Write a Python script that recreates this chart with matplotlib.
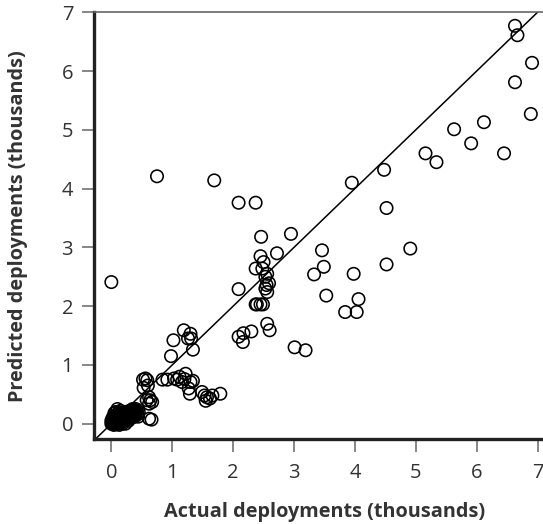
import matplotlib
matplotlib.use("Agg")
import matplotlib.pyplot as plt
import numpy as np

# Actual vs predicted deployments (thousands)
actual = [
    # dense cluster near origin
    0.00, 0.02, 0.05, 0.08, 0.10, 0.12, 0.15, 0.20, 0.25, 0.30, 0.35, 0.40, 0.42, 0.38,
    0.30, 0.25, 0.20, 0.15, 0.10, 0.05, 0.18, 0.12, 0.45, 0.40, 0.32, 0.28, 0.22, 0.08,
    0.03, 0.00, 0.14, 0.06, 0.23, 0.35, 0.44, 0.10, 0.05,
    0.01, 0.03, 0.04, 0.06, 0.07, 0.09, 0.11, 0.13, 0.16, 0.17, 0.19, 0.21, 0.24, 0.26,
    0.27, 0.29, 0.31, 0.33, 0.34, 0.36, 0.37, 0.39, 0.41, 0.43, 0.02, 0.04, 0.07, 0.09,
    0.11, 0.13, 0.16, 0.19, 0.22, 0.26, 0.33, 0.38,
    # around 0.6
    0.56, 0.59, 0.52, 0.60, 0.53, 0.62, 0.64, 0.62, 0.67, 0.58, 0.62, 0.66,
    # row near 0.75
    0.84, 0.92, 1.03, 1.08, 1.16, 1.22, 1.30, 1.34, 1.12, 1.20,
    1.27, 1.29,
    1.49, 1.53, 1.57, 1.62, 1.66, 1.55, 1.79,
    # group near 1.3-1.6
    1.19, 1.30, 1.26, 1.31, 1.02, 1.34, 0.98,
    # sparse high
    0.00, 0.75, 1.69, 2.09, 2.37,
    2.46, 2.95, 2.72,
    # cluster around 2.5
    2.45, 2.50, 2.37, 2.48, 2.56, 2.53, 2.55, 2.59, 2.53, 2.56, 2.39, 2.45, 2.49, 2.37,
    2.09, 2.56, 2.60, 2.09, 2.17, 2.30, 2.16, 3.01, 3.19,
    # right side
    3.46, 3.49, 3.33, 3.98, 3.53, 4.06, 3.84, 4.03,
    3.95, 4.48, 4.52, 4.91, 4.52,
    5.16, 5.34, 5.63, 5.91, 6.12, 6.45, 6.63, 6.67, 6.91, 6.63, 6.89,
]
predicted = [
    0.00, 0.01, 0.03, 0.05, 0.10, 0.20, 0.22, 0.18, 0.20, 0.22, 0.20, 0.17, 0.22, 0.12,
    0.10, 0.12, 0.05, 0.08, 0.02, 0.00, 0.00, 0.12, 0.20, 0.25, 0.15, 0.05, 0.15, 0.15,
    0.08, 0.05, 0.00, -0.01, 0.00, 0.25, 0.12, 0.25, 0.18,
    0.02, 0.04, 0.12, 0.08, 0.02, 0.06, 0.15, 0.05, 0.14, 0.18, 0.10, 0.08, 0.06, 0.18,
    0.14, 0.16, 0.18, 0.20, 0.12, 0.16, 0.22, 0.14, 0.20, 0.16, 0.10, -0.02, 0.20, 0.00,
    0.07, -0.02, 0.03, 0.13, 0.09, 0.08, 0.10, 0.19,
    0.77, 0.74, 0.75, 0.65, 0.61, 0.45, 0.40, 0.34, 0.37, 0.40, 0.085, 0.07,
    0.75, 0.75, 0.77, 0.75, 0.71, 0.85, 0.71, 0.73, 0.80, 0.76,
    0.60, 0.51,
    0.54, 0.48, 0.45, 0.43, 0.48, 0.39, 0.51,
    1.59, 1.53, 1.45, 1.45, 1.42, 1.26, 1.15,
    2.41, 4.21, 4.14, 3.76, 3.76,
    3.18, 3.23, 2.90,
    2.85, 2.75, 2.64, 2.64, 2.55, 2.50, 2.36, 2.39, 2.30, 2.24, 2.03, 2.03, 2.03, 2.03,
    2.29, 1.70, 1.59, 1.48, 1.54, 1.57, 1.39, 1.30, 1.25,
    2.95, 2.67, 2.54, 2.55, 2.18, 2.12, 1.90, 1.90,
    4.10, 4.32, 3.67, 2.98, 2.71,
    4.60, 4.45, 5.01, 4.77, 5.13, 4.60, 6.77, 6.61, 6.14, 5.81, 5.27,
]

x_ticks = [0, 1, 2, 3, 4, 5, 6, 7]
y_ticks = [0, 1, 2, 3, 4, 5, 6, 7]

plt.rcParams['font.family'] = ['Open Sans', 'DejaVu Sans']

fig = plt.figure(figsize=(5.43, 5.24), dpi=100)
ax = fig.add_axes([94 / 543, 1 - 439 / 524, 1 - 94 / 543, (439 - 12.3) / 524])

ax.scatter(actual, predicted, s=80, facecolors='none', edgecolors='black',
           linewidths=1.15, zorder=3)

xmin, xmax = -0.285, 7.09
ymin, ymax = -0.26, 7.0
ax.plot([-1, 8], [-1, 8], color='black', linewidth=1.1, zorder=2)

ax.set_xlim(xmin, xmax)
ax.set_ylim(ymin, ymax)
ax.set_xticks(x_ticks)
ax.set_yticks(y_ticks)
ax.set_xticklabels([str(t) for t in x_ticks])
ax.set_yticklabels([str(t) for t in y_ticks])

for side in ['left', 'bottom']:
    ax.spines[side].set_linewidth(2.4)
    ax.spines[side].set_color('#222222')
ax.spines['top'].set_linewidth(1.2)
ax.spines['top'].set_color('#666666')
ax.spines['right'].set_visible(False)

ax.tick_params(axis='both', direction='out', length=9, width=1.1, color='#666666',
               labelsize=14.5, labelcolor='#333333', pad=6)
ax.tick_params(axis='x', pad=8)

ax.set_xlabel('Actual deployments (thousands)', fontsize=14.3, fontweight='bold',
              color='#333333')
ax.xaxis.set_label_coords(0.514, -0.147)
ax.set_ylabel('Predicted deployments (thousands)', fontsize=14.3, fontweight='bold',
              color='#333333', labelpad=24)

fig.savefig('out.png', dpi=100)
